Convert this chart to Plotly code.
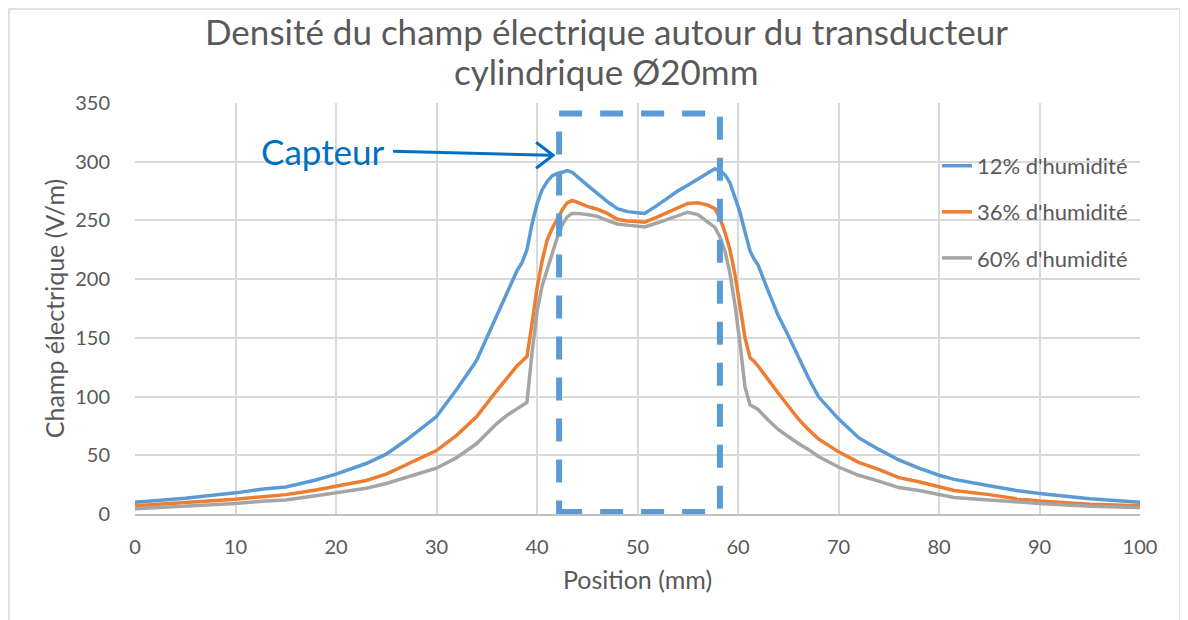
import plotly.graph_objects as go

# position along the sensor axis (mm)
position = [0, 5, 10, 13, 15, 18, 20, 23, 25, 27,
            30, 32, 33.7, 34, 36, 37, 38, 38.5, 39, 39.5,
            40, 40.5, 41, 41.5, 42, 42.5, 43, 43.5, 44, 45,
            46, 47, 48, 49, 50, 50.7, 52, 53, 54, 55,
            56, 57, 57.7, 58.2, 58.7, 59.2, 59.7, 60.2, 60.7, 61.2,
            61.6, 62, 63, 64, 65, 66, 67, 68, 70, 72,
            74, 76, 78, 80, 81.5, 85, 87.7, 90, 95, 100]

# field (V/m) for each humidity level
hum_12 = [10, 13.5, 18, 21.5, 23, 29, 34, 43, 51, 63,
          83, 106, 127, 131, 169, 188, 207, 214, 225, 247,
          264, 276, 283, 288, 290, 291, 292.5, 291, 287, 280,
          273, 266, 260, 257.5, 256.5, 256, 263, 269, 275, 280,
          285, 290, 294, 292, 289, 282, 270, 257, 240, 224,
          217, 212, 190, 169, 152, 134, 116, 100, 81, 65,
          55, 46, 39, 33, 29.5, 24, 20, 17.5, 13, 10]

hum_36 = [7, 9.5, 12.5, 15, 16.5, 20.5, 23.5, 28.5, 34, 42,
          54, 67, 80, 83, 105, 116, 126, 130, 134, 162,
          192, 215, 233, 243, 251, 259, 265, 267, 265.5, 262,
          259.5, 256, 251, 249.5, 249, 248.5, 253, 257, 261, 264.5,
          265, 263, 260, 252, 240, 225, 204, 178, 150, 133,
          130, 126, 114, 103, 92, 81, 72, 64, 53, 44,
          38, 31, 27.5, 23, 20, 16.5, 13, 11, 8.3, 7]

hum_60 = [4.5, 6.5, 9, 11, 12, 15.5, 18, 22, 26, 31,
          39, 48, 58, 60, 77, 84, 89.5, 92, 95, 137,
          172, 194, 208, 223, 235, 246, 253, 256, 256, 255,
          253.5, 250, 247, 246, 245, 244.5, 248, 251, 254, 257,
          255, 249, 244, 236, 224, 205, 178, 145, 108, 93,
          91, 89, 80, 72, 66, 60, 55, 49, 40, 33,
          28, 22.5, 20, 16.5, 14, 12, 10, 9, 6.5, 5.5]

series_names = ["12% d'humidité", "36% d'humidité", "60% d'humidité"]
series_colors = ['#5B9BD5', '#ED7D31', '#A5A5A5']

title_lines = ['Densité du champ électrique autour du transducteur',
               'cylindrique Ø20mm']

# sensor zone (mm / V/m)
sensor_x = [42.2, 58.2]
sensor_y = [1.7, 341]

FONT = 'Lato'
GREY_TXT = '#595959'

fig = go.Figure()

for name, vals, col in zip(series_names, [hum_12, hum_36, hum_60], series_colors):
    fig.add_trace(go.Scatter(
        x=position, y=vals, name=name, mode='lines',
        line={'color': col, 'width': 3.5}, legendgroup=name
    ))

# dashed sensor box
fig.add_shape(
    type='rect', xref='x', yref='y',
    x0=sensor_x[0], x1=sensor_x[1], y0=sensor_y[0], y1=sensor_y[1],
    line={'color': '#5B9BD5', 'width': 6, 'dash': '23px,18px'},
    layer='above'
)

# arrow "Capteur" -> box
tip_x, tip_y = 41.6, 305.5
fig.add_shape(
    type='line', xref='x', yref='y', xsizemode='pixel', ysizemode='pixel',
    xanchor=tip_x, yanchor=tip_y,
    x0=-160, y0=4, x1=-2, y1=0,
    line={'color': '#0070C0', 'width': 3}
)
fig.add_shape(
    type='path', xref='x', yref='y', xsizemode='pixel', ysizemode='pixel',
    xanchor=tip_x, yanchor=tip_y,
    path='M -17 13 L 0 0 L -17 -13',
    line={'color': '#0070C0', 'width': 3}
)
fig.add_annotation(
    x=tip_x, y=tip_y, xref='x', yref='y', xshift=-230, yshift=4,
    text='Capteur', showarrow=False,
    font={'family': FONT, 'size': 35, 'color': '#0070C0'}
)

# title, two lines
for txt, ty in zip(title_lines, [1.175, 1.077]):
    fig.add_annotation(
        x=0.4687, y=ty, xref='paper', yref='paper',
        xanchor='center', yanchor='middle', showarrow=False,
        text=txt, font={'family': FONT, 'size': 35, 'color': GREY_TXT}
    )

# outer chart frame
fig.add_shape(
    type='rect', xref='paper', yref='paper',
    x0=-0.1254, x1=1.0398, y0=-0.3, y1=1.229,
    line={'color': '#D9D9D9', 'width': 1.5}, layer='below'
)

fig.update_layout(
    width=1188, height=620,
    margin={'l': 127, 'r': 56, 't': 95, 'b': 114},
    paper_bgcolor='white', plot_bgcolor='white',
    font={'family': FONT, 'color': GREY_TXT},
    legend={
        'x': 0.798, 'y': 0.898, 'xanchor': 'left', 'yanchor': 'top',
        'bgcolor': 'rgba(0,0,0,0)', 'tracegroupgap': 14.5,
        'font': {'family': FONT, 'size': 22, 'color': GREY_TXT},
        'traceorder': 'grouped'
    },
    showlegend=True
)

fig.update_xaxes(
    range=[0, 100], dtick=10, tick0=0,
    showgrid=True, gridcolor='#D9D9D9', gridwidth=1.5,
    zeroline=False, showline=True, linecolor='#BFBFBF', linewidth=2,
    ticks='', ticklabelstandoff=14,
    tickfont={'family': FONT, 'size': 20, 'color': GREY_TXT},
    title={'text': 'Position (mm)', 'standoff': 14,
           'font': {'family': FONT, 'size': 25, 'color': GREY_TXT}},
    automargin=False
)
fig.update_yaxes(
    range=[0, 350], dtick=50, tick0=0,
    showgrid=True, gridcolor='#D9D9D9', gridwidth=1.5,
    zeroline=False, showline=False,
    ticks='', ticklabelstandoff=24,
    tickfont={'family': FONT, 'size': 20, 'color': GREY_TXT},
    title={'text': 'Champ électrique (V/m)', 'standoff': 3,
           'font': {'family': FONT, 'size': 25, 'color': GREY_TXT}},
    automargin=False
)

fig.write_html("out.html")
